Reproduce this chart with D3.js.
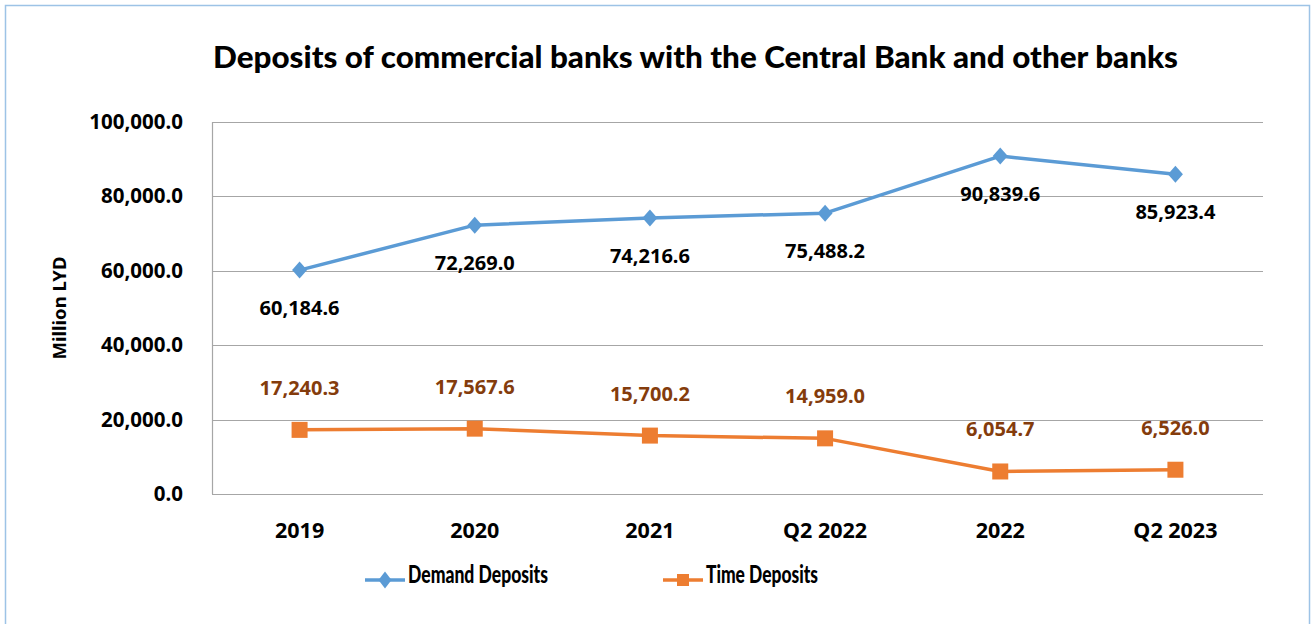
<!DOCTYPE html>
<html>
<head>
<meta charset="utf-8">
<script src="https://cdn.jsdelivr.net/npm/d3@7"></script>
<style>
  body { margin: 0; background: #fff; }
  svg { display: block; }
</style>
</head>
<body>
<svg id="chart" width="1312" height="624"></svg>
<script>
const categories = ['2019', '2020', '2021', 'Q2 2022', '2022', 'Q2 2023'];
const demandDeposits = [60184.6, 72269.0, 74216.6, 75488.2, 90839.6, 85923.4];
const timeDeposits = [17240.3, 17567.6, 15700.2, 14959.0, 6054.7, 6526.0];
const yTicks = [0, 20000, 40000, 60000, 80000, 100000];
const seriesNames = ['Demand Deposits', 'Time Deposits'];

const svg = d3.select('#chart');
const W = 1312, H = 624;
const margin = { left: 212, right: 49, top: 122, bottom: 130 };
const plotW = W - margin.left - margin.right;
const plotH = H - margin.top - margin.bottom;

const blue = '#5b9bd5';
const orange = '#ed7d31';
const brown = '#843c0c';
const labelFont = '"Noto Sans", "Open Sans", sans-serif';
const titleFont = 'Lato, "Noto Sans", sans-serif';
const fmt = d3.format(',.1f');

// outer frame
svg.append('rect')
  .attr('x', 5.5).attr('y', 5.5)
  .attr('width', 1304).attr('height', 640)
  .attr('fill', '#fff')
  .attr('stroke', '#9dc3e6')
  .attr('stroke-width', 1.5);

svg.append('text')
  .attr('x', 213).attr('y', 68)
  .attr('textLength', 965)
  .attr('lengthAdjust', 'spacingAndGlyphs')
  .style('font-family', titleFont)
  .style('font-weight', 900)
  .style('font-size', '31px')
  .text('Deposits of commercial banks with the Central Bank and other banks');

const x = d3.scaleBand().domain(categories).range([0, plotW]);
const y = d3.scaleLinear().domain([0, 100000]).range([plotH, 0]);

const g = svg.append('g').attr('transform', `translate(${margin.left},${margin.top})`);

// gridlines
g.append('g')
  .selectAll('line')
  .data(yTicks)
  .join('line')
  .attr('x1', 0).attr('x2', plotW)
  .attr('y1', d => Math.round(y(d)) + 0.5)
  .attr('y2', d => Math.round(y(d)) + 0.5)
  .attr('stroke', '#a6a6a6')
  .attr('stroke-width', 1.2);

g.append('line')
  .attr('x1', 0.5).attr('x2', 0.5)
  .attr('y1', 0).attr('y2', plotH)
  .attr('stroke', '#a6a6a6')
  .attr('stroke-width', 1.2);

// y axis labels
const yAxis = g.append('g')
  .call(d3.axisLeft(y).tickValues(yTicks).tickSize(0).tickPadding(29).tickFormat(fmt));
yAxis.select('.domain').remove();
yAxis.selectAll('text')
  .style('font-family', labelFont)
  .style('font-weight', 700)
  .style('font-size', '20.5px')
  .attr('fill', '#000');

// x axis labels
const xAxis = g.append('g')
  .attr('transform', `translate(0,${plotH})`)
  .call(d3.axisBottom(x).tickSize(0).tickPadding(29));
xAxis.select('.domain').remove();
xAxis.selectAll('text')
  .style('font-family', labelFont)
  .style('font-weight', 700)
  .style('font-size', '21.5px')
  .attr('fill', '#000');

svg.append('text')
  .attr('transform', 'translate(66,308) rotate(-90)')
  .attr('text-anchor', 'middle')
  .style('font-family', labelFont)
  .style('font-weight', 700)
  .style('font-size', '18.5px')
  .text('Million LYD');

const cx = (d, i) => x(categories[i]) + x.bandwidth() / 2;
const line = d3.line().x(cx).y(d => y(d));

g.append('path')
  .datum(demandDeposits)
  .attr('d', line)
  .attr('fill', 'none')
  .attr('stroke', blue)
  .attr('stroke-width', 3.5)
  .attr('stroke-linejoin', 'round');

g.append('path')
  .datum(timeDeposits)
  .attr('d', line)
  .attr('fill', 'none')
  .attr('stroke', orange)
  .attr('stroke-width', 3.5)
  .attr('stroke-linejoin', 'round');

const diamondPath = (w, h) => `M0,${-h / 2}L${w / 2},0L0,${h / 2}L${-w / 2},0Z`;

g.selectAll('.dmark')
  .data(demandDeposits)
  .join('path')
  .attr('d', diamondPath(15, 17))
  .attr('transform', (d, i) => `translate(${cx(d, i)},${y(d)})`)
  .attr('fill', blue);

g.selectAll('.tmark')
  .data(timeDeposits)
  .join('rect')
  .attr('x', (d, i) => cx(d, i) - 8)
  .attr('y', d => y(d) - 8)
  .attr('width', 16).attr('height', 16)
  .attr('fill', orange);

g.selectAll('.dlabel')
  .data(demandDeposits)
  .join('text')
  .attr('x', cx)
  .attr('y', d => y(d) + 38)
  .attr('dy', '0.35em')
  .attr('text-anchor', 'middle')
  .style('font-family', labelFont)
  .style('font-weight', 700)
  .style('font-size', '20px')
  .attr('fill', '#000')
  .text(fmt);

g.selectAll('.tlabel')
  .data(timeDeposits)
  .join('text')
  .attr('x', cx)
  .attr('y', d => y(d) - 42)
  .attr('dy', '0.35em')
  .attr('text-anchor', 'middle')
  .style('font-family', labelFont)
  .style('font-weight', 700)
  .style('font-size', '20px')
  .attr('fill', brown)
  .text(fmt);

// legend
const legend = svg.append('g');
const legendItems = [
  { name: seriesNames[0], color: blue, x: 365, w: 140, shape: 'diamond' },
  { name: seriesNames[1], color: orange, x: 663, w: 112, shape: 'square' }
];
legendItems.forEach(item => {
  const lg = legend.append('g').attr('transform', `translate(${item.x},580)`);
  lg.append('line')
    .attr('x1', 0).attr('x2', 40)
    .attr('stroke', item.color)
    .attr('stroke-width', 3.5);
  if (item.shape === 'diamond') {
    lg.append('path')
      .attr('d', diamondPath(13, 17))
      .attr('transform', 'translate(20,0)')
      .attr('fill', item.color);
  } else {
    lg.append('rect')
      .attr('x', 14).attr('y', -6)
      .attr('width', 12).attr('height', 12)
      .attr('fill', item.color);
  }
  lg.append('text')
    .attr('x', 43).attr('y', 3)
    .attr('textLength', item.w)
    .attr('lengthAdjust', 'spacingAndGlyphs')
    .style('font-family', titleFont)
    .style('font-weight', 900)
    .style('font-size', '24px')
    .text(item.name);
});
</script>
</body>
</html>
